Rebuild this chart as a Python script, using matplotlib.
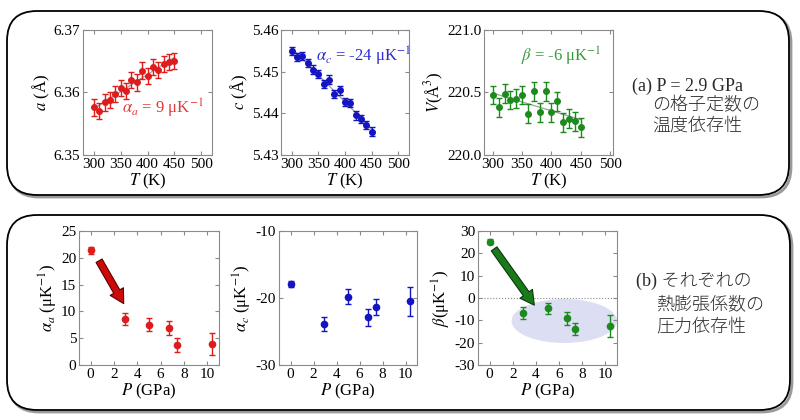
import numpy as np
import matplotlib
matplotlib.use('Agg')
import matplotlib.pyplot as plt
from matplotlib.patches import FancyBboxPatch, Ellipse

plt.rcParams['font.family'] = ['Liberation Serif', 'Noto Sans CJK JP', 'DejaVu Sans']
plt.rcParams['mathtext.fontset'] = 'stix'
plt.rcParams['font.size'] = 10.5
plt.rcParams['axes.unicode_minus'] = False

# (a) lattice constants vs temperature at 2.9 GPa
T = [300, 310, 320, 330, 340, 350, 360, 370, 380, 390, 400, 410, 420, 430, 440, 450]
a_val = [6.3576, 6.3570, 6.3584, 6.3588, 6.3597, 6.3607, 6.3602, 6.3620,
         6.3616, 6.3635, 6.3626, 6.3641, 6.3636, 6.3645, 6.3649, 6.3650]
c_val = [5.4549, 5.4535, 5.4538, 5.4520, 5.4505, 5.4495, 5.4471, 5.4481,
         5.4446, 5.4455, 5.4427, 5.4424, 5.4395, 5.4386, 5.4372, 5.4356]
V_val = [220.48, 220.38, 220.49, 220.44, 220.45, 220.48, 220.33, 220.51,
         220.34, 220.51, 220.34, 220.43, 220.26, 220.29, 220.27, 220.22]
a_err = 0.0013
c_err = 0.001
V_err = 0.075

# (b) expansion coefficients vs pressure
P = [0, 2.9, 5.0, 6.7, 7.4, 10.4]
alpha_a = [21.45, 8.6, 7.5, 6.9, 3.75, 3.9]
alpha_a_err = [0.65, 1.1, 1.2, 1.25, 1.25, 2.1]
alpha_c = [-17.9, -23.9, -19.8, -22.9, -21.3, -20.5]
alpha_c_err = [0.5, 1.1, 1.15, 1.3, 1.2, 2.2]
beta = [25.2, -6.7, -4.6, -9.1, -13.9, -12.7]
beta_err = [1.2, 2.5, 2.5, 3.0, 2.7, 4.9]

red = '#dd1c1c'
blue = '#1414c0'
green = '#1c8a1c'

fig = plt.figure(figsize=(8, 4.2), dpi=100)

# background frames
bg = fig.add_axes([0, 0, 1, 1], zorder=-1)
bg.set_xlim(0, 800)
bg.set_ylim(420, 0)
bg.axis('off')
for (x0, y0, x1, y1) in [(7, 11, 789, 195), (7, 215, 790, 410)]:
    sh = FancyBboxPatch((x0 + 2, y0 + 2), x1 - x0, y1 - y0,
                        boxstyle='round,pad=0,rounding_size=30',
                        fc='none', ec='#9a9a9a', lw=2)
    bg.add_patch(sh)
    bx = FancyBboxPatch((x0, y0), x1 - x0, y1 - y0,
                        boxstyle='round,pad=0,rounding_size=30',
                        fc='white', ec='black', lw=1.3)
    bg.add_patch(bx)

jp = dict(fontsize=13, va='center', ha='left', color='#2a2a2a')
bg.text(632, 86, '(a) P = 2.9 GPa', **jp)
bg.text(652, 106, 'の格子定数の', fontweight='light', **jp)
bg.text(652, 126, '温度依存性', fontweight='light', **jp)
bg.text(636, 281, '(b) それぞれの', fontweight='light', **jp)
bg.text(656, 305, '熱膨張係数の', fontweight='light', **jp)
bg.text(656, 327, '圧力依存性', fontweight='light', **jp)


def style(ax):
    for s in ax.spines.values():
        s.set_color('#8a8a8a')
        s.set_linewidth(0.8)
    ax.tick_params(direction='in', top=True, right=True, length=3,
                   color='#8a8a8a', labelsize=11, pad=2)


def fitline(ax, x, y):
    k, b = np.polyfit(x, y, 1)
    xx = np.array([x[0], x[-1]])
    ax.plot(xx, k * xx + b, color='#a0a0a0', lw=0.9, zorder=1)


top_pos = [[0.10375, 0.631, 0.16125, 0.2976],
           [0.35125, 0.631, 0.16, 0.2976],
           [0.605, 0.631, 0.16125, 0.2976]]
top = [fig.add_axes(p) for p in top_pos]

ax = top[0]
fitline(ax, T, a_val)
ax.errorbar(T, a_val, yerr=a_err, fmt='o', color=red, ms=4, capsize=2, lw=1, zorder=3)
ax.set_xlim(280, 520)
ax.set_ylim(6.35, 6.37)
ax.set_yticks([6.35, 6.36, 6.37])
ax.set_ylabel('$a$ (Å)', fontsize=12, labelpad=1)
ax.text(0.30, 0.37, r'$\alpha_a$ = 9 μK$^{-1}$', transform=ax.transAxes,
        color='#e03a3a', fontsize=12, va='center')

ax = top[1]
fitline(ax, T, c_val)
ax.errorbar(T, c_val, yerr=c_err, fmt='o', color=blue, ms=4, capsize=2, lw=1, zorder=3)
ax.set_xlim(280, 520)
ax.set_ylim(5.43, 5.46)
ax.set_yticks([5.43, 5.44, 5.45, 5.46])
ax.set_ylabel('$c$ (Å)', fontsize=12, labelpad=1)
ax.text(0.27, 0.79, r'$\alpha_c$ = -24 μK$^{-1}$', transform=ax.transAxes,
        color='#2a2ad0', fontsize=12, va='center')

ax = top[2]
fitline(ax, T, V_val)
ax.errorbar(T, V_val, yerr=V_err, fmt='o', color=green, ms=4, capsize=2, lw=1, zorder=3)
ax.set_xlim(285, 505)
ax.set_ylim(220.0, 221.0)
ax.set_yticks([220.0, 220.5, 221.0])
ax.set_yticklabels(['220.0', '220.5', '221.0'])
ax.set_ylabel('$V$(Å$^3$)', fontsize=12, labelpad=1)
ax.text(0.29, 0.79, r'$\beta$ = -6 μK$^{-1}$', transform=ax.transAxes,
        color='#3a9a3a', fontsize=12, va='center')

for ax in top:
    ax.set_xticks([300, 350, 400, 450, 500])
    ax.set_xlabel('$T$ (K)', fontsize=12, labelpad=1)
    style(ax)

bot_pos = [[0.09875, 0.131, 0.175, 0.319],
           [0.34875, 0.131, 0.1725, 0.319],
           [0.5975, 0.131, 0.17375, 0.319]]
bot = [fig.add_axes(p) for p in bot_pos]

ax = bot[0]
ax.errorbar(P, alpha_a, yerr=alpha_a_err, fmt='o', color=red, ms=4.5, capsize=2.5, lw=1, zorder=3)
ax.set_ylim(0, 25)
ax.set_yticks([0, 5, 10, 15, 20, 25])
ax.set_ylabel(r'$\alpha_a$ (μK$^{-1}$)', fontsize=12, labelpad=1)
ax.annotate('', xy=(2.95, 11.0), xytext=(0.6, 19.9),
            arrowprops=dict(arrowstyle='simple,head_width=1.1,head_length=1.0,tail_width=0.5',
                            mutation_scale=10, fc='#cc0a0a', ec='#5a0000', lw=0.8))

ax = bot[1]
ax.errorbar(P, alpha_c, yerr=alpha_c_err, fmt='o', color=blue, ms=4.5, capsize=2.5, lw=1, zorder=3)
ax.set_ylim(-30, -10)
ax.set_yticks([-30, -20, -10])
ax.set_ylabel(r'$\alpha_c$ (μK$^{-1}$)', fontsize=12, labelpad=1)

ax = bot[2]
ax.add_patch(Ellipse((6.45, -10.3), 9.1, 19.7, fc='#dcdff4', ec='none', zorder=0))
ax.axhline(0, color='#888888', lw=0.8, ls=':', zorder=1)
ax.errorbar(P, beta, yerr=beta_err, fmt='o', color=green, ms=4.5, capsize=2.5, lw=1, zorder=3)
ax.set_ylim(-30, 30)
ax.set_yticks([-30, -20, -10, 0, 10, 20, 30])
ax.set_ylabel(r'$\beta$(μK$^{-1}$)', fontsize=12, labelpad=1)
ax.annotate('', xy=(4.0, -4.2), xytext=(0.25, 23.0),
            arrowprops=dict(arrowstyle='simple,head_width=1.1,head_length=1.0,tail_width=0.5',
                            mutation_scale=10, fc='#1a7a1a', ec='#073807', lw=0.8))

for ax in bot:
    ax.set_xlim(-1, 11)
    ax.set_xticks([0, 2, 4, 6, 8, 10])
    ax.set_xlabel('$P$ (GPa)', fontsize=12, labelpad=1)
    style(ax)

fig.savefig('out.png', dpi=100)
